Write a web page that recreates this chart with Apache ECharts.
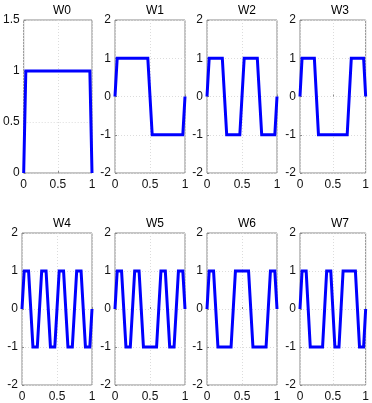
<!DOCTYPE html>
<html>
<head>
<meta charset="utf-8">
<script src="https://cdn.jsdelivr.net/npm/echarts@6/dist/echarts.min.js"></script>
<style>html,body{margin:0;padding:0;background:#fff;}#c{width:372px;height:403px;}</style>
</head>
<body>
<div id="c"></div>
<script>
const titles = ['W0','W1','W2','W3','W4','W5','W6','W7'];
const xs = [0,0.03125,0.0625,0.09375,0.125,0.15625,0.1875,0.21875,0.25,0.28125,0.3125,0.34375,0.375,0.40625,0.4375,0.46875,0.5,0.53125,0.5625,0.59375,0.625,0.65625,0.6875,0.71875,0.75,0.78125,0.8125,0.84375,0.875,0.90625,0.9375,0.96875,1];
const W0 = [0,1,1,1,1,1,1,1,1,1,1,1,1,1,1,1,1,1,1,1,1,1,1,1,1,1,1,1,1,1,1,1,0];
const W1 = [0,1,1,1,1,1,1,1,1,1,1,1,1,1,1,1,0,-1,-1,-1,-1,-1,-1,-1,-1,-1,-1,-1,-1,-1,-1,-1,0];
const W2 = [0,1,1,1,1,1,1,1,0,-1,-1,-1,-1,-1,-1,-1,0,1,1,1,1,1,1,1,0,-1,-1,-1,-1,-1,-1,-1,0];
const W3 = [0,1,1,1,1,1,1,1,0,-1,-1,-1,-1,-1,-1,-1,-1,-1,-1,-1,-1,-1,-1,-1,0,1,1,1,1,1,1,1,0];
const W4 = [0,1,1,1,0,-1,-1,-1,0,1,1,1,0,-1,-1,-1,0,1,1,1,0,-1,-1,-1,0,1,1,1,0,-1,-1,-1,0];
const W5 = [0,1,1,1,0,-1,-1,-1,0,1,1,1,0,-1,-1,-1,-1,-1,-1,-1,0,1,1,1,0,-1,-1,-1,0,1,1,1,0];
const W6 = [0,1,1,1,0,-1,-1,-1,-1,-1,-1,-1,0,1,1,1,1,1,1,1,0,-1,-1,-1,-1,-1,-1,-1,0,1,1,1,0];
const W7 = [0,1,1,1,0,-1,-1,-1,-1,-1,-1,-1,0,1,1,1,0,-1,-1,-1,0,1,1,1,1,1,1,1,0,-1,-1,-1,0];
const waves = [W0,W1,W2,W3,W4,W5,W6,W7];
const yMin = [0,-2,-2,-2,-2,-2,-2,-2];
const yMax = [1.5,2,2,2,2,2,2,2];
const yStep = [0.5,1,1,1,1,1,1,1];
const xTicks = [0, 0.5, 1];

const lefts = [22,115,207,300];
const tops = [20,233];
const W = 70, H = 153;
const font = 'Liberation Sans, Arial, sans-serif';

const grid = [], xAxis = [], yAxis = [], series = [], title = [];
for (let i = 0; i < 8; i++) {
  const c = i % 4, r = Math.floor(i / 4);
  grid.push({left: lefts[c], top: tops[r], width: W, height: H, show: true,
    borderColor: '#8a8a8a', borderWidth: 1, backgroundColor: 'transparent', containLabel: false});
  xAxis.push({type: 'value', gridIndex: i, min: xTicks[0], max: xTicks[xTicks.length-1], interval: 0.5,
    axisLine: {show: false},
    axisTick: {show: true, inside: true, length: 2, lineStyle: {color: '#8a8a8a'}},
    axisLabel: {color: '#111', fontSize: 12, fontFamily: font, margin: 6,
      formatter: v => String(v)},
    splitLine: {show: true, lineStyle: {color: '#dcdcdc', type: [1, 2], width: 1}}});
  yAxis.push({type: 'value', gridIndex: i, min: yMin[i], max: yMax[i], interval: yStep[i],
    axisLine: {show: false},
    axisTick: {show: true, inside: true, length: 2, lineStyle: {color: '#8a8a8a'}},
    axisLabel: {color: '#111', fontSize: 12, fontFamily: font, margin: 4,
      formatter: v => String(v)},
    splitLine: {show: true, lineStyle: {color: '#dcdcdc', type: [1, 2], width: 1}}});
  series.push({type: 'line', xAxisIndex: i, yAxisIndex: i, symbol: 'none', animation: false,
    data: xs.map((x, k) => [x, waves[i][k]]),
    lineStyle: {color: '#0000ff', width: 3, join: 'miter'}});
  title.push({text: titles[i], left: lefts[c] + W / 2, top: tops[r] - 20, textAlign: 'center',
    textStyle: {fontSize: 12, fontWeight: 'normal', color: '#000', fontFamily: font}});
}

const chart = echarts.init(document.getElementById('c'), null, {renderer: 'canvas'});
chart.setOption({animation: false, title, grid, xAxis, yAxis, series});
</script>
</body>
</html>
